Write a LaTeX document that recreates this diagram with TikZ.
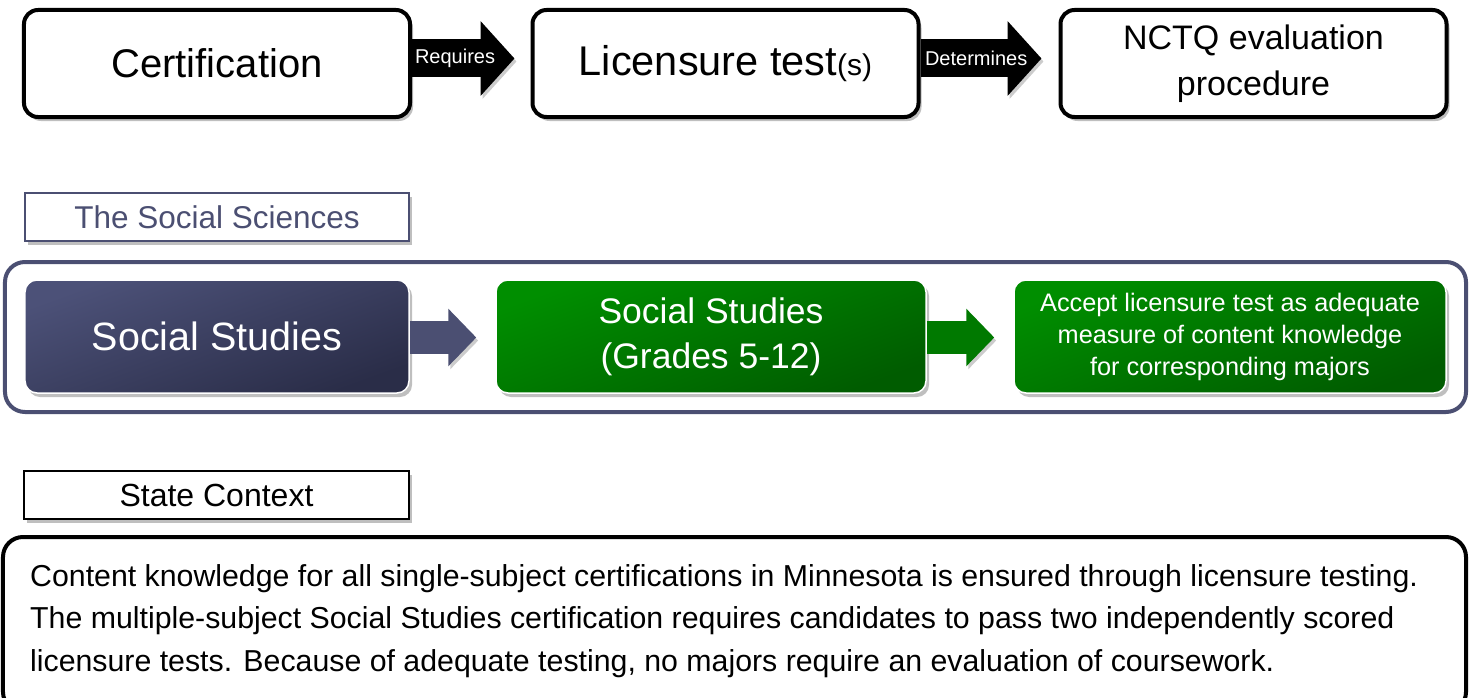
\documentclass[tikz,border=0pt]{standalone}
\usepackage{fontspec}
\setmainfont{Liberation Sans}
\usetikzlibrary{shadows,arrows.meta,calc}
\definecolor{slate}{HTML}{4B4F72}
\definecolor{navyA}{HTML}{4C5178}
\definecolor{navyB}{HTML}{2A2D48}
\definecolor{greenA}{HTML}{008E00}
\definecolor{greenB}{HTML}{005C00}
\newcommand{\fs}[2]{\fontsize{#1bp}{#2bp}\selectfont}
\tikzset{
  softshadow/.style={drop shadow={shadow xshift=3bp, shadow yshift=-4bp, fill=black, opacity=0.25}},
  topbox/.style={draw=black, line width=4bp, rounded corners=14bp, fill=white,
    minimum width=386bp, minimum height=107bp, inner sep=0pt, align=center, softshadow},
  labelbox/.style={line width=2bp, fill=white, minimum width=384bp, minimum height=48bp,
    inner sep=0pt, softshadow},
  colbox/.style={draw=white, line width=1.5bp, rounded corners=12bp, minimum height=113bp,
    inner sep=0pt, align=center, text=white, softshadow},
  navybox/.style={colbox, top color=navyA, bottom color=navyB, shading angle=20},
  greenbox/.style={colbox, top color=greenA, bottom color=greenB, shading angle=20},
  bigarrow/.style={line width=38bp, -{Triangle[length=34bp,width=73bp]},
    preaction={draw=black!50, opacity=0.4, transform canvas={shift={(2bp,-3bp)}}}},
  midarrow/.style={line width=33bp, -{Triangle[length=28bp,width=56bp]},
    preaction={draw=black!50, opacity=0.4, transform canvas={shift={(2bp,-3bp)}}}},
  frame/.style={line width=4bp, rounded corners=20bp, inner sep=0pt},
}
\begin{document}
\begin{tikzpicture}[x=1bp,y=-1bp]
\useasboundingbox (0,0) rectangle (1473,698);
% top row
\node[topbox, font=\fs{40}{46}] (cert) at (217,63.5) {Certification};
\node[topbox, font=\fs{41.5}{46}] (lic) at (725.5,63.5) {Licensure test{\fs{30}{40}(s)}};
\node[topbox, font=\fs{34}{46}] (nctq) at (1253.5,63.5) {NCTQ evaluation\\procedure};
\draw[bigarrow] ([yshift=5bp]cert.east) -- ([yshift=5bp,xshift=-16bp]lic.west)
  node[pos=0.42, text=white, font=\fs{20}{24}] {Requires};
\draw[bigarrow] ([yshift=5bp]lic.east) -- ([yshift=5bp,xshift=-17bp]nctq.west)
  node[pos=0.46, text=white, font=\fs{20}{24}] {Determines};
% social sciences
\node[labelbox, draw=slate, text=slate, font=\fs{31.5}{34}] (socsci) at (217,217) {The Social Sciences};
\node[frame, draw=slate, minimum width=1461bp, minimum height=150bp] (cont) at (735.5,337) {};
\node[navybox, minimum width=384bp, font=\fs{39.5}{44}] (ss) at (217,336.5) {Social Studies};
\node[greenbox, minimum width=430bp, font=\fs{35.5}{45}] (ssg) at (711,336.5) {\rule{0pt}{0pt}\raisebox{0pt}{}Social Studies\\(Grades 5-12)\rule[-6bp]{0pt}{0pt}};
\node[greenbox, minimum width=432bp, font=\fs{25.3}{32}] (acc) at (1230,336.5) {\rule[-4bp]{0pt}{0pt}Accept licensure test as adequate\\measure of content knowledge\\for corresponding majors\rule[-5bp]{0pt}{0pt}};
\draw[midarrow, draw=slate] ([yshift=-1bp]ss.east) -- ([yshift=-1bp,xshift=-19bp]ssg.west);
\draw[midarrow, draw=greenA!85!black] ([yshift=-1bp]ssg.east) -- ([yshift=-1bp,xshift=-19bp]acc.west);
% state context
\node[labelbox, draw=black, text=black, font=\fs{32}{34}] (state) at (216.5,495) {State Context};
\node[frame, draw=black, fill=white, minimum width=1463bp, minimum height=175bp] (ctx) at (734.5,624.5) {};
\node[anchor=west, align=left, inner sep=0pt, font=\fs{30.3}{42.5}] (ctxtext) at ([xshift=29bp]ctx.west |- 0,621)
  {Content knowledge for all single-subject certifications in Minnesota is ensured through licensure testing.\\
   The multiple-subject Social Studies certification requires candidates to pass two independently scored\\
   licensure tests. Because of adequate testing, no majors require an evaluation of coursework.};
\end{tikzpicture}
\end{document}
